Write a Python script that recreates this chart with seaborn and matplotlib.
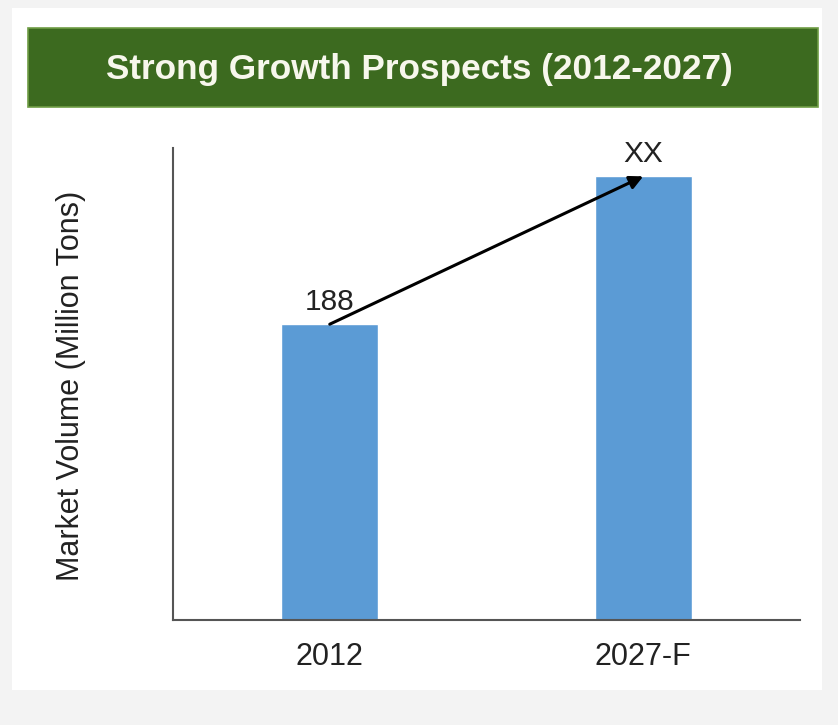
import matplotlib

matplotlib.use("Agg")
import matplotlib.pyplot as plt
import pandas as pd
import seaborn as sns
from matplotlib.patches import Rectangle

# chart data
years = ["2012", "2027-F"]
volumes = [188, 282]  # 2027-F value is hidden ("XX"); height estimated from bar
bar_labels = ["188", "XX"]

title = "Strong Growth Prospects (2012-2027)"
ylabel = "Market Volume (Million Tons)"

sns.set_theme(style="white")
plt.rcParams["font.family"] = ["Liberation Sans", "DejaVu Sans"]

df = pd.DataFrame({"year": years, "volume": volumes})

fig = plt.figure(figsize=(8.38, 7.25), dpi=100, facecolor="#f3f3f3")

# white panel and green title banner
fig.patches.append(Rectangle((12 / 838, 1 - 690 / 725), 810 / 838, 682 / 725,
                             transform=fig.transFigure, facecolor="white",
                             edgecolor="none", zorder=-2))
fig.patches.append(Rectangle((28 / 838, 1 - 107 / 725), 790 / 838, 79 / 725,
                             transform=fig.transFigure, facecolor="#3c6a1f",
                             edgecolor="#6f9d45", linewidth=1.2, zorder=-1))
fig.text(0.501, 1 - 69 / 725, title, ha="center", va="center",
         color="#f7f7ec", fontsize=25.3, fontweight="bold")

ax = fig.add_axes([173 / 838, 1 - 620 / 725, 627 / 838, 472 / 725])
ax.set_zorder(2)
ax.set_facecolor("white")
sns.barplot(data=df, x="year", y="volume", color="#5b9bd5", width=0.31,
            saturation=1, ax=ax)

ax.set_ylim(0, 300)
ax.set_xlim(-0.5, 1.5)
ax.set_yticks([])
ax.set_xlabel("")
ax.set_ylabel(ylabel, fontsize=22, color="#222222", va="center")
ax.yaxis.set_label_coords(-0.162, 0.495)
ax.tick_params(axis="x", length=0, pad=16, labelsize=22, labelcolor="#222222")

for side in ["top", "right"]:
    ax.spines[side].set_visible(False)
for side in ["left", "bottom"]:
    ax.spines[side].set_color("#555555")
    ax.spines[side].set_linewidth(1.5)

for i, (v, lab) in enumerate(zip(volumes, bar_labels)):
    ax.annotate(lab, xy=(i, v), xytext=(0, 6), textcoords="offset points",
                ha="center", va="bottom", fontsize=21.5, color="#222222")

ax.annotate("", xy=(1, volumes[1]), xytext=(0, volumes[0]),
            arrowprops=dict(arrowstyle="-|>", color="black", lw=2.2,
                            mutation_scale=20, shrinkA=0, shrinkB=0))

fig.savefig("out.png", dpi=100, facecolor=fig.get_facecolor())
